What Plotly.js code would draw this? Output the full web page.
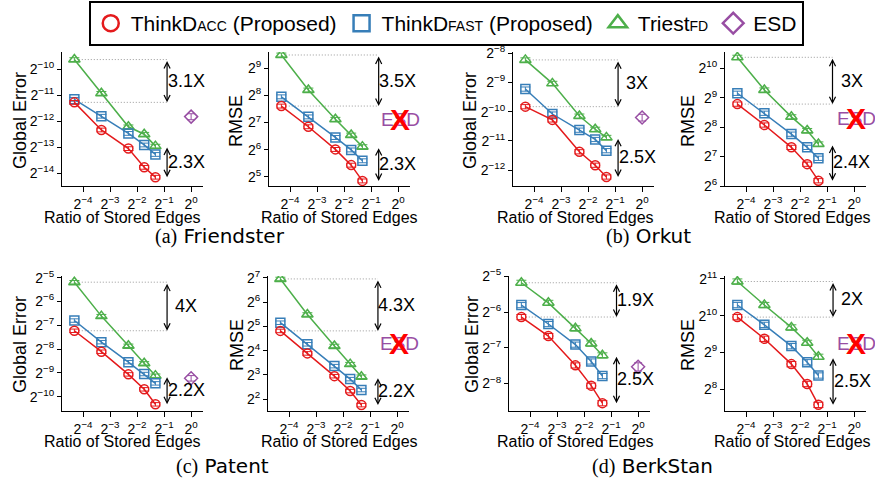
<!DOCTYPE html>
<html><head><meta charset="utf-8">
<script src="https://cdn.plot.ly/plotly-3.0.1.min.js"></script>
<style>body{margin:0;background:#fff}#chart{width:875px;height:496px}</style>
</head><body><div id="chart"></div>
<script>
// ---------------- data ----------------
const ratios = [0.05, 0.1, 0.2, 0.3, 0.4];
const esdRatio = [1];
const seriesNames = ['ThinkD<span style="font-size:14px">ACC</span> (Proposed)',
                     'ThinkD<span style="font-size:14px">FAST</span> (Proposed)',
                     'Triest<span style="font-size:14px">FD</span>', 'ESD'];

const friendsterErrTriest = [1.27e-3, 5.16e-4, 2.11e-4, 1.73e-4, 1.26e-4];
const friendsterErrFast   = [4.40e-4, 2.80e-4, 1.77e-4, 1.30e-4, 1.01e-4];
const friendsterErrAcc    = [4.05e-4, 1.94e-4, 1.18e-4, 7.16e-5, 5.50e-5];
const friendsterErrEsd    = [2.77e-4];
const friendsterRmseTriest = [719, 294, 139, 93.0, 69.1];
const friendsterRmseFast   = [247, 148, 87.4, 63.6, 48.2];
const friendsterRmseAcc    = [195, 115, 64.4, 43.1, 28.8];

const orkutErrTriest = [3.33e-3, 1.91e-3, 8.80e-4, 6.44e-4, 5.31e-4];
const orkutErrFast   = [1.67e-3, 9.24e-4, 6.31e-4, 5.06e-4, 3.88e-4];
const orkutErrAcc    = [1.10e-3, 8.04e-4, 3.78e-4, 2.75e-4, 2.08e-4];
const orkutErrEsd    = [8.50e-4];
const orkutRmseTriest = [1323, 613, 326, 236, 172];
const orkutRmseFast   = [568, 355, 217, 159, 123];
const orkutRmseAcc    = [440, 269, 159, 107, 72.5];

const patentErrTriest = [2.74e-2, 1.02e-2, 4.30e-3, 2.58e-3, 1.80e-3];
const patentErrFast   = [8.97e-3, 4.78e-3, 2.67e-3, 1.89e-3, 1.44e-3];
const patentErrAcc    = [6.66e-3, 3.62e-3, 1.87e-3, 1.21e-3, 7.82e-4];
const patentErrEsd    = [1.67e-3];
const patentRmseTriest = [123.6, 44.9, 18.3, 10.9, 7.62];
const patentRmseFast   = [35.5, 19.2, 10.3, 7.11, 5.21];
const patentRmseAcc    = [28.1, 14.8, 7.73, 5.06, 3.39];

const berkstanErrTriest = [2.76e-2, 1.87e-2, 1.14e-2, 8.49e-3, 6.75e-3];
const berkstanErrFast   = [1.79e-2, 1.24e-2, 8.32e-3, 6.00e-3, 4.52e-3];
const berkstanErrAcc    = [1.42e-2, 9.82e-3, 5.56e-3, 3.75e-3, 2.67e-3];
const berkstanErrEsd    = [5.41e-3];
const berkstanRmseTriest = [1951, 1252, 820, 613, 471];
const berkstanRmseFast   = [1252, 861, 576, 425, 331];
const berkstanRmseAcc    = [996, 662, 410, 282, 190];

const gainLabels = [['3.1X','2.3X'],['3.5X','2.3X'],['3X','2.5X'],['3X','2.4X'],
                    ['4X','2.2X'],['4.3X','2.2X'],['1.9X','2.5X'],['2X','2.5X']];
const xTickExp = [-4, -3, -2, -1, 0];
const yTickExps = [[-14,-13,-12,-11,-10],[5,6,7,8,9],[-12,-11,-10,-9,-8],[6,7,8,9,10],
                   [-10,-9,-8,-7,-6,-5],[2,3,4,5,6,7],[-8,-7,-6,-5],[8,9,10,11]];
const yTitles = ['Global Error','RMSE','Global Error','RMSE','Global Error','RMSE','Global Error','RMSE'];
const xTitle = 'Ratio of Stored Edges';
const captions = [['(a)','Friendster'],['(b)','Orkut'],['(c)','Patent'],['(d)','BerkStan']];

// ---------------- layout config (positions only) ----------------
const W = 875, H = 496, LOG2 = Math.log10(2);
const COLORS = ['#e41a1c', '#377eb8', '#4daf4a', '#984ea3'];
const SYMBOLS = ['circle-open', 'square-open', 'triangle-up-open', 'diamond-open'];
const SIZES = [9, 9, 10, 10];
const panels = [
  {data:[friendsterErrAcc, friendsterErrFast, friendsterErrTriest], esd:friendsterErrEsd,
   left:62, row:0, yr:[-14.49,-9.33], arrow:-0.89, yt:[20,121], xt:122},
  {data:[friendsterRmseAcc, friendsterRmseFast, friendsterRmseTriest], esdLabel:7.13,
   left:269, row:0, yr:[4.66,9.6], arrow:-0.72, yt:[236,121], xt:339},
  {data:[orkutErrAcc, orkutErrFast, orkutErrTriest], esd:orkutErrEsd,
   left:513, row:0, yr:[-12.54,-7.96], arrow:-0.89, yt:[470,121], xt:575},
  {data:[orkutRmseAcc, orkutRmseFast, orkutRmseTriest], esdLabel:8.28,
   left:725, row:0, yr:[6.0,10.55], arrow:-0.8, yt:[688,121], xt:792},
  {data:[patentErrAcc, patentErrFast, patentErrTriest], esd:patentErrEsd,
   left:62, row:1, yr:[-10.59,-4.93], arrow:-0.89, yt:[20,345], xt:122},
  {data:[patentRmseAcc, patentRmseFast, patentRmseTriest], esdLabel:4.31,
   left:268, row:1, yr:[1.53,7.07], arrow:-0.71, yt:[237,345], xt:339},
  {data:[berkstanErrAcc, berkstanErrFast, berkstanErrTriest], esd:berkstanErrEsd,
   left:509, row:1, yr:[-8.76,-4.99], arrow:-0.8, yt:[472,345], xt:575},
  {data:[berkstanRmseAcc, berkstanRmseFast, berkstanRmseTriest], esdLabel:9.23,
   left:725, row:1, yr:[7.41,11.08], arrow:-0.78, yt:[688,345], xt:792}
];
const rows = [{top:52, bottom:186, xt:218}, {top:276, bottom:410.7, xt:441}];
const capPos = [[220,236],[648,236],[222,466],[652,466]];
const PW = 141, XR = [-4.78, 0.44];

const expTxt = e => '2<sup>' + (e < 0 ? '\u2212' + (-e) : String(e)) + '</sup>';
const FONT = 'Liberation Sans, Arial, sans-serif';
// pixel helpers (same linear log2 mapping the axes use)
const pxX = (p, l2) => p.left + (l2 - XR[0]) * PW / (XR[1] - XR[0]);
const pxY = (p, l2) => { const r = rows[p.row];
  return r.top + (p.yr[1] - l2) * (r.bottom - r.top) / (p.yr[1] - p.yr[0]); };
const paperAnn = (px, py, o) => Object.assign({xref:'paper', yref:'paper', x:px / W, y:1 - py / H,
  xanchor:'center', yanchor:'middle', showarrow:false}, o);

function build(withArrows) {
  const traces = [], annotations = [];
  const layout = {
    width: W, height: H, margin: {l:0, r:0, t:0, b:0},
    paper_bgcolor: '#fff', plot_bgcolor: '#fff',
    font: {family: FONT, color: '#000', size: 14},
    showlegend: true,
    legend: {orientation:'h', x:0.51, xanchor:'center', y:1 - 1/H, yanchor:'top',
             bordercolor:'#000', borderwidth:2, font:{size:21, family:FONT},
             itemwidth:30, bgcolor:'#fff', tracegroupgap:0},
    annotations: annotations
  };
  panels.forEach((p, i) => {
    const n = i === 0 ? '' : String(i + 1);
    const xa = 'x' + n, ya = 'y' + n;
    const r = rows[p.row];
    layout['xaxis' + n] = {
      type:'log', domain:[p.left / W, (p.left + PW) / W], range:[XR[0]*LOG2, XR[1]*LOG2],
      autorange:false,
      tickvals: xTickExp.map(e => Math.pow(2, e)), ticktext: xTickExp.map(expTxt),
      ticks:'outside', ticklen:5, tickwidth:1, tickcolor:'#000',
      showline:true, linecolor:'#000', linewidth:1, showgrid:false, zeroline:false,
      anchor: ya, tickfont:{size:14}, fixedrange:true
    };
    layout['yaxis' + n] = {
      type:'log', domain:[1 - r.bottom / H, 1 - r.top / H], range:[p.yr[0]*LOG2, p.yr[1]*LOG2],
      autorange:false,
      tickvals: yTickExps[i].map(e => Math.pow(2, e)), ticktext: yTickExps[i].map(expTxt),
      ticks:'outside', ticklen:4, tickwidth:1, tickcolor:'#000',
      showline:true, linecolor:'#000', linewidth:1, showgrid:false, zeroline:false,
      anchor: xa, tickfont:{size:14}, fixedrange:true
    };
    const acc = p.data[0], tri = p.data[2];
    const ax = Math.pow(2, p.arrow);
    [tri[0], acc[0]].forEach(v => traces.push({
      x:[ratios[0] * 1.12, ax], y:[v, v], xaxis:xa, yaxis:ya, mode:'lines',
      line:{color:'#999', width:1, dash:'1px,2px'}, hoverinfo:'skip', showlegend:false
    }));
    [2, 1, 0].forEach(k => traces.push({
      x: ratios, y: p.data[k], xaxis:xa, yaxis:ya, mode:'lines+markers', showlegend:false,
      line:{color:COLORS[k], width:1.5},
      marker:{symbol:SYMBOLS[k], size:SIZES[k], color:COLORS[k], line:{width:1.5, color:COLORS[k]}},
      error_y:{type:'percent', value:5, width:5, thickness:1, color:COLORS[k]}
    }));
    if (p.esd) traces.push({
      x: esdRatio, y: p.esd, xaxis:xa, yaxis:ya, mode:'markers', showlegend:false,
      marker:{symbol:SYMBOLS[3], size:SIZES[3], color:COLORS[3], line:{width:1.5, color:COLORS[3]}},
      error_y:{type:'percent', value:8, width:4, thickness:1, color:COLORS[3]}
    });
    if (p.esdLabel !== undefined) {
      const ex = pxX(p, 0) + 2, ey = pxY(p, p.esdLabel);
      annotations.push(paperAnn(ex, ey, {text:'ESD', font:{size:19, color:COLORS[3], family:FONT}}));
      annotations.push(paperAnn(ex, ey, {text:'<b>X</b>', font:{size:30, color:'#ff0000', family:FONT}}));
    }
    const axPx = pxX(p, p.arrow);
    [[tri[0], acc[0]], [tri[4], acc[4]]].forEach((pair, j) => {
      const yTop = pxY(p, Math.log2(pair[0])), yBot = pxY(p, Math.log2(pair[1]));
      if (withArrows) {
        annotations.push({xref:'paper', yref:'paper', x:axPx / W, y:1 - yBot / H,
          ax:0, ay:-(yBot - yTop), text:'', showarrow:true, arrowhead:5, startarrowhead:5,
          arrowside:'end+start', arrowsize:1, arrowwidth:1.2, arrowcolor:'#000'});
      }
      annotations.push(paperAnn(axPx + 19, (yTop + yBot) / 2,
        {text:gainLabels[i][j], font:{size:18, family:FONT}}));
    });
    annotations.push(paperAnn(p.yt[0], p.yt[1], {text:yTitles[i], textangle:-90,
      font:{size:18, family:FONT}}));
    annotations.push(paperAnn(p.xt, r.xt, {text:xTitle, font:{size:16, family:FONT}}));
  });
  captions.forEach((c, i) => {
    annotations.push(paperAnn(capPos[i][0], capPos[i][1], {
      text:'<span style="font-family:Liberation Serif">' + c[0] + '</span> ' + c[1],
      font:{size:20, family:'DejaVu Sans, sans-serif'}}));
  });
  seriesNames.forEach((name, k) => traces.push({
    x:[null], y:[null], name:name, mode:'markers', showlegend:true,
    marker:{symbol:SYMBOLS[k], size:16, color:COLORS[k], line:{width:2.5, color:COLORS[k]}}
  }));
  return [traces, layout];
}

(async () => {
  const cfg = {displayModeBar:false, staticPlot:true};
  try {
    const [t, l] = build(true);
    await Plotly.newPlot('chart', t, l, cfg);
  } catch (e) {
    Plotly.purge('chart');
    const [t, l] = build(false);
    await Plotly.newPlot('chart', t, l, cfg);
  }
})();
</script></body></html>
